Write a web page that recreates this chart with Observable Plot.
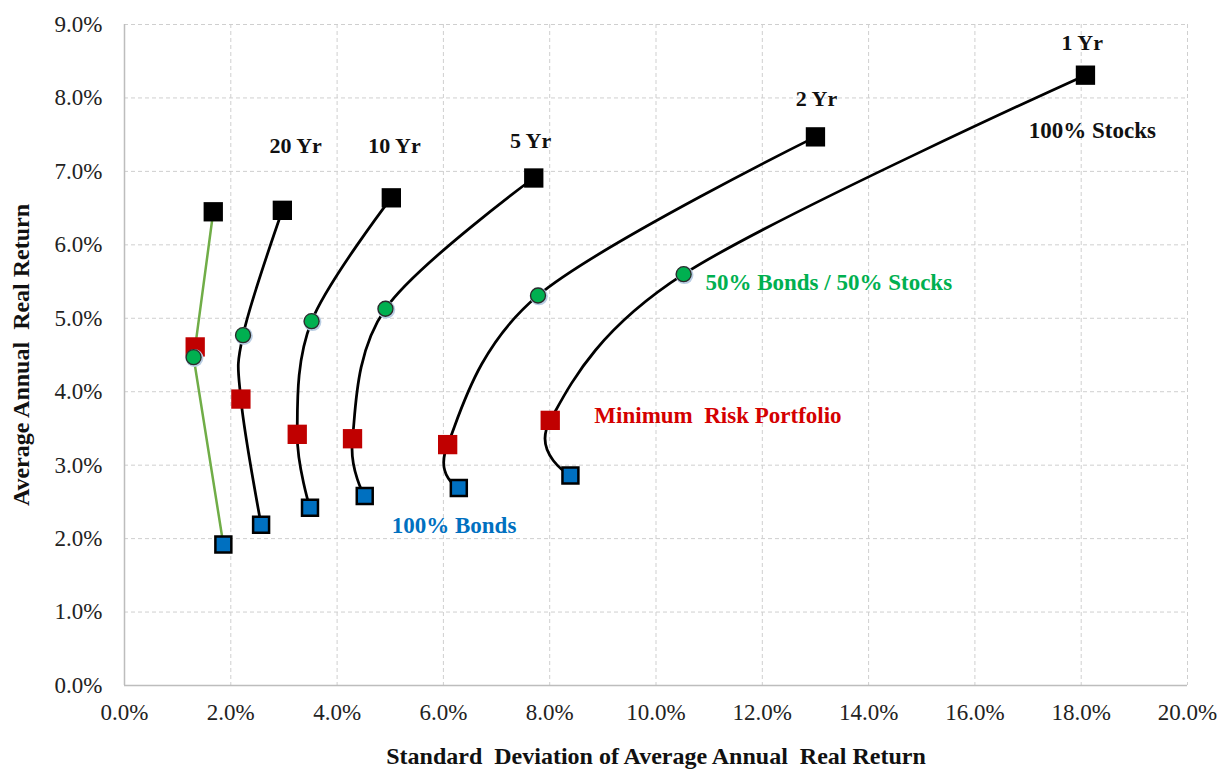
<!DOCTYPE html>
<html><head><meta charset="utf-8">
<script src="https://cdn.jsdelivr.net/npm/d3@7"></script>
<script src="https://cdn.jsdelivr.net/npm/@observablehq/plot@0.6"></script>
<style>
html,body{margin:0;padding:0;background:#fff;}
#chart svg text{white-space:pre;font-family:'Liberation Serif','Times New Roman',serif !important;}
</style></head><body><div id="chart"></div>
<script>
// Holding-period horizons (leftmost curve is unlabeled in the source)
const horizons = ["1 Yr","2 Yr","5 Yr","10 Yr","20 Yr","30 Yr"];
// 100% Bonds
const bondsSD  = [8.39, 6.29, 4.52, 3.49, 2.57, 1.86];
const bondsRet = [2.86, 2.69, 2.58, 2.42, 2.19, 1.92];
// Minimum risk portfolio
const minSD  = [8.01, 6.08, 4.29, 3.25, 2.19, 1.33];
const minRet = [3.61, 3.28, 3.36, 3.42, 3.90, 4.61];
// 50% Bonds / 50% Stocks
const halfSD  = [10.52, 7.78, 4.91, 3.52, 2.23, 1.30];
const halfRet = [5.60, 5.31, 5.13, 4.96, 4.77, 4.47];
// 100% Stocks
const stockSD  = [18.08, 13.00, 7.70, 5.02, 2.97, 1.67];
const stockRet = [8.31, 7.47, 6.91, 6.64, 6.47, 6.45];

// Horizon labels
const hLabels = ["1 Yr","2 Yr","5 Yr","10 Yr","20 Yr"];
const hLabelX = [18.02, 13.02, 7.64, 5.08, 3.22];
const hLabelY = [8.75, 7.98, 7.41, 7.34, 7.34];

// Annotation labels
const notes = ["100% Stocks","50% Bonds / 50% Stocks","Minimum  Risk Portfolio","100% Bonds"];
const noteX = [18.21, 10.93, 8.84, 6.2];
const noteY = [7.55, 5.48, 3.67, 2.18];
const noteColor = ["#111111","#00b050","#d40000","#0070c0"];
const noteAnchor = ["middle","start","start","middle"];

const xTicks = [0,2,4,6,8,10,12,14,16,18,20];
const yTicks = [0,1,2,3,4,5,6,7,8,9];

const pts = [];
horizons.forEach((h, i) => {
  pts.push({h, kind:"bonds", x:bondsSD[i], y:bondsRet[i]});
  pts.push({h, kind:"min",   x:minSD[i],   y:minRet[i]});
  pts.push({h, kind:"half",  x:halfSD[i],  y:halfRet[i]});
  pts.push({h, kind:"stock", x:stockSD[i], y:stockRet[i]});
});
const blackLines = pts.filter(d => d.h !== "30 Yr");
const greenLine = pts.filter(d => d.h === "30 Yr").slice().sort((a,b) => a.y - b.y);
const noteData = notes.map((t,i) => ({t, x:noteX[i], y:noteY[i], c:noteColor[i], a:noteAnchor[i]}));
const hData = hLabels.map((t,i) => ({t, x:hLabelX[i], y:hLabelY[i]}));

const fmt = d => d.toFixed(1) + "%";

const chart = Plot.plot({
  width: 1219,
  height: 772,
  marginLeft: 124,
  marginRight: 32,
  marginTop: 24,
  marginBottom: 87,
  style: {fontFamily: "'Liberation Serif', 'Times New Roman', serif", fontSize: "23px", color: "#222", background: "#fff"},
  x: {domain: [0, 20]},
  y: {domain: [0, 9]},
  color: {type: "identity"},
  marks: [
    Plot.gridX(xTicks, {stroke: "#cfcfcf", strokeOpacity: 1, strokeDasharray: "4,3"}),
    Plot.gridY(yTicks, {stroke: "#cfcfcf", strokeOpacity: 1, strokeDasharray: "4,3"}),
    Plot.ruleX([0], {stroke: "#bdbdbd", strokeWidth: 1.5}),
    Plot.ruleY([0], {stroke: "#bdbdbd", strokeWidth: 1.5}),
    Plot.axisX({ticks: xTicks, tickFormat: fmt, tickSize: 0, tickPadding: 18, label: null, fontSize: 23}),
    Plot.axisY({ticks: yTicks, tickFormat: fmt, tickSize: 0, tickPadding: 22, label: null, fontSize: 23}),
    Plot.text(["Standard  Deviation of Average Annual  Real Return"], {frameAnchor: "bottom", dy: 78, fontWeight: "bold", fontSize: 24, fill: "#111"}),
    Plot.text(["Average Annual  Real Return"], {frameAnchor: "left", textAnchor: "middle", rotate: -90, dx: -103, fontWeight: "bold", fontSize: 24, fill: "#111"}),
    Plot.line(blackLines, {x: "x", y: "y", z: "h", stroke: "#000", strokeWidth: 2.75, curve: "cardinal"}),
    Plot.line(greenLine, {x: "x", y: "y", stroke: "#70ad47", strokeWidth: 2.5}),
    Plot.dot(pts.filter(d => d.kind === "stock"), {x: "x", y: "y", symbol: "square", r: 10.9, fill: "#000", stroke: "none"}),
    Plot.dot(pts.filter(d => d.kind === "min"), {x: "x", y: "y", symbol: "square", r: 10.9, fill: "#c00000", stroke: "none"}),
    Plot.dot(pts.filter(d => d.kind === "bonds"), {x: "x", y: "y", symbol: "square", r: 9, fill: "#0070c0", stroke: "#000", strokeWidth: 2.5}),
    Plot.dot(pts.filter(d => d.kind === "half"), {x: "x", y: "y", r: 9, fill: "#b9cde3", stroke: "none", dx: 0.8, dy: 0.8}),
    Plot.dot(pts.filter(d => d.kind === "half"), {x: "x", y: "y", r: 7.5, fill: "#00b050", stroke: "#2b2b2b", strokeWidth: 1.3}),
    Plot.text(hData, {x: "x", y: "y", text: "t", fontWeight: "bold", fontSize: 22, fill: "#111"}),
    Plot.text(noteData.filter(d => d.a === "middle"), {x: "x", y: "y", text: "t", fill: "c", textAnchor: "middle", fontWeight: "bold", fontSize: 23}),
    Plot.text(noteData.filter(d => d.a === "start"), {x: "x", y: "y", text: "t", fill: "c", textAnchor: "start", fontWeight: "bold", fontSize: 23})
  ]
});
document.getElementById("chart").appendChild(chart);
</script>
</body></html>
